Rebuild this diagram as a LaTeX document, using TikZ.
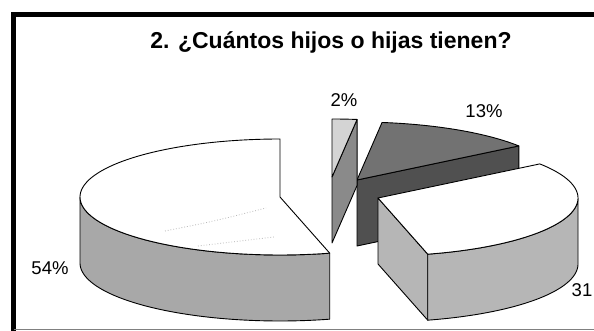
\documentclass[tikz,border=0pt]{standalone}
\usepackage{fontspec}
\setmainfont{Liberation Sans}
\definecolor{wallA}{HTML}{A8A8A8}
\definecolor{wallB}{HTML}{B6B6B6}
\definecolor{topS}{HTML}{D4D4D4}
\definecolor{sideS}{HTML}{8A8A8A}
\definecolor{topM}{HTML}{727272}
\definecolor{sideM}{HTML}{505050}
\begin{document}
\begin{tikzpicture}[x=1pt,y=-1pt,
  edge/.style={draw=black, line width=0.9pt, line join=round},
  lbl/.style={font=\fontsize{18.5}{20}\selectfont, inner sep=0pt},
  ttl/.style={font=\fontsize{23}{26}\selectfont\bfseries, inner sep=0pt, anchor=base},
]
\def\RX{200}\def\RY{58}\def\DP{66}
\useasboundingbox (0,0) rectangle (594,331);
\fill[white] (0,0) rectangle (594,331);

% frame
\draw[line width=5pt] (594,14.2) -- (13.5,14.2) -- (13.5,331);
\draw[line width=1.2pt, black!50] (13.5,329.8) -- (594,329.8);

% title
\node[ttl] (title) at (331,49) {2. ¿Cuántos hijos o hijas tienen?};

% 13% slice
\begin{scope}[shift={(357,180)}]
  \path[fill=sideM, edge] (0,0) -- ({\RX*cos(36)},{-\RY*sin(36)}) -- ++(0,\DP) -- (0,\DP) -- cycle;
  \path[fill=topM, edge] (0,0) -- plot[domain=36:82.8,samples=40] ({\RX*cos(\x)},{-\RY*sin(\x)}) -- cycle;
\end{scope}

% 2% slice
\begin{scope}[shift={(332,177)}]
  \path[fill=sideS, edge] (0,0) -- ({\RX*cos(82.8)},{-\RY*sin(82.8)}) -- ++(0,\DP) -- (0,\DP) -- cycle;
  \path[fill=topS, edge] (0,0) -- plot[domain=82.8:90,samples=10] ({\RX*cos(\x)},{-\RY*sin(\x)}) -- cycle;
\end{scope}

% 54% slice
\begin{scope}[shift={(280,197)}]
  \path[fill=wallA, edge] plot[domain=180:284.4,samples=60] ({\RX*cos(\x)},{-\RY*sin(\x)})
     -- plot[domain=284.4:180,samples=60] ({\RX*cos(\x)},{\DP-\RY*sin(\x)}) -- cycle;
  \path[fill=white, edge] (0,0) -- plot[domain=90:284.4,samples=90] ({\RX*cos(\x)},{-\RY*sin(\x)}) -- cycle;
\end{scope}
\draw[gray!55, dotted, line width=0.8pt] (165,231) .. controls (215,221) .. (266,208);
\draw[gray!55, dotted, line width=0.8pt] (198,246) -- (274,237);

% 31% slice
\begin{scope}[shift={(378,198)}]
  \path[fill=wallB, edge] (0,0) -- ({\RX*cos(-75.6)},{-\RY*sin(-75.6)}) -- ++(0,\DP) -- (0,\DP) -- cycle;
  \path[fill=wallB, edge] plot[domain=-75.6:0,samples=50] ({\RX*cos(\x)},{-\RY*sin(\x)})
     -- plot[domain=0:-75.6,samples=50] ({\RX*cos(\x)},{\DP-\RY*sin(\x)}) -- cycle;
  \path[fill=white, edge] (0,0) -- plot[domain=-75.6:36,samples=70] ({\RX*cos(\x)},{-\RY*sin(\x)}) -- cycle;
\end{scope}

% labels
\node[lbl] (l2) at (344,100) {2\%};
\node[lbl] (l13) at (484,111) {13\%};
\node[lbl] (l54) at (50,268) {54\%};
\node[lbl] (l31) at (582,290) {31};
\end{tikzpicture}
\end{document}
